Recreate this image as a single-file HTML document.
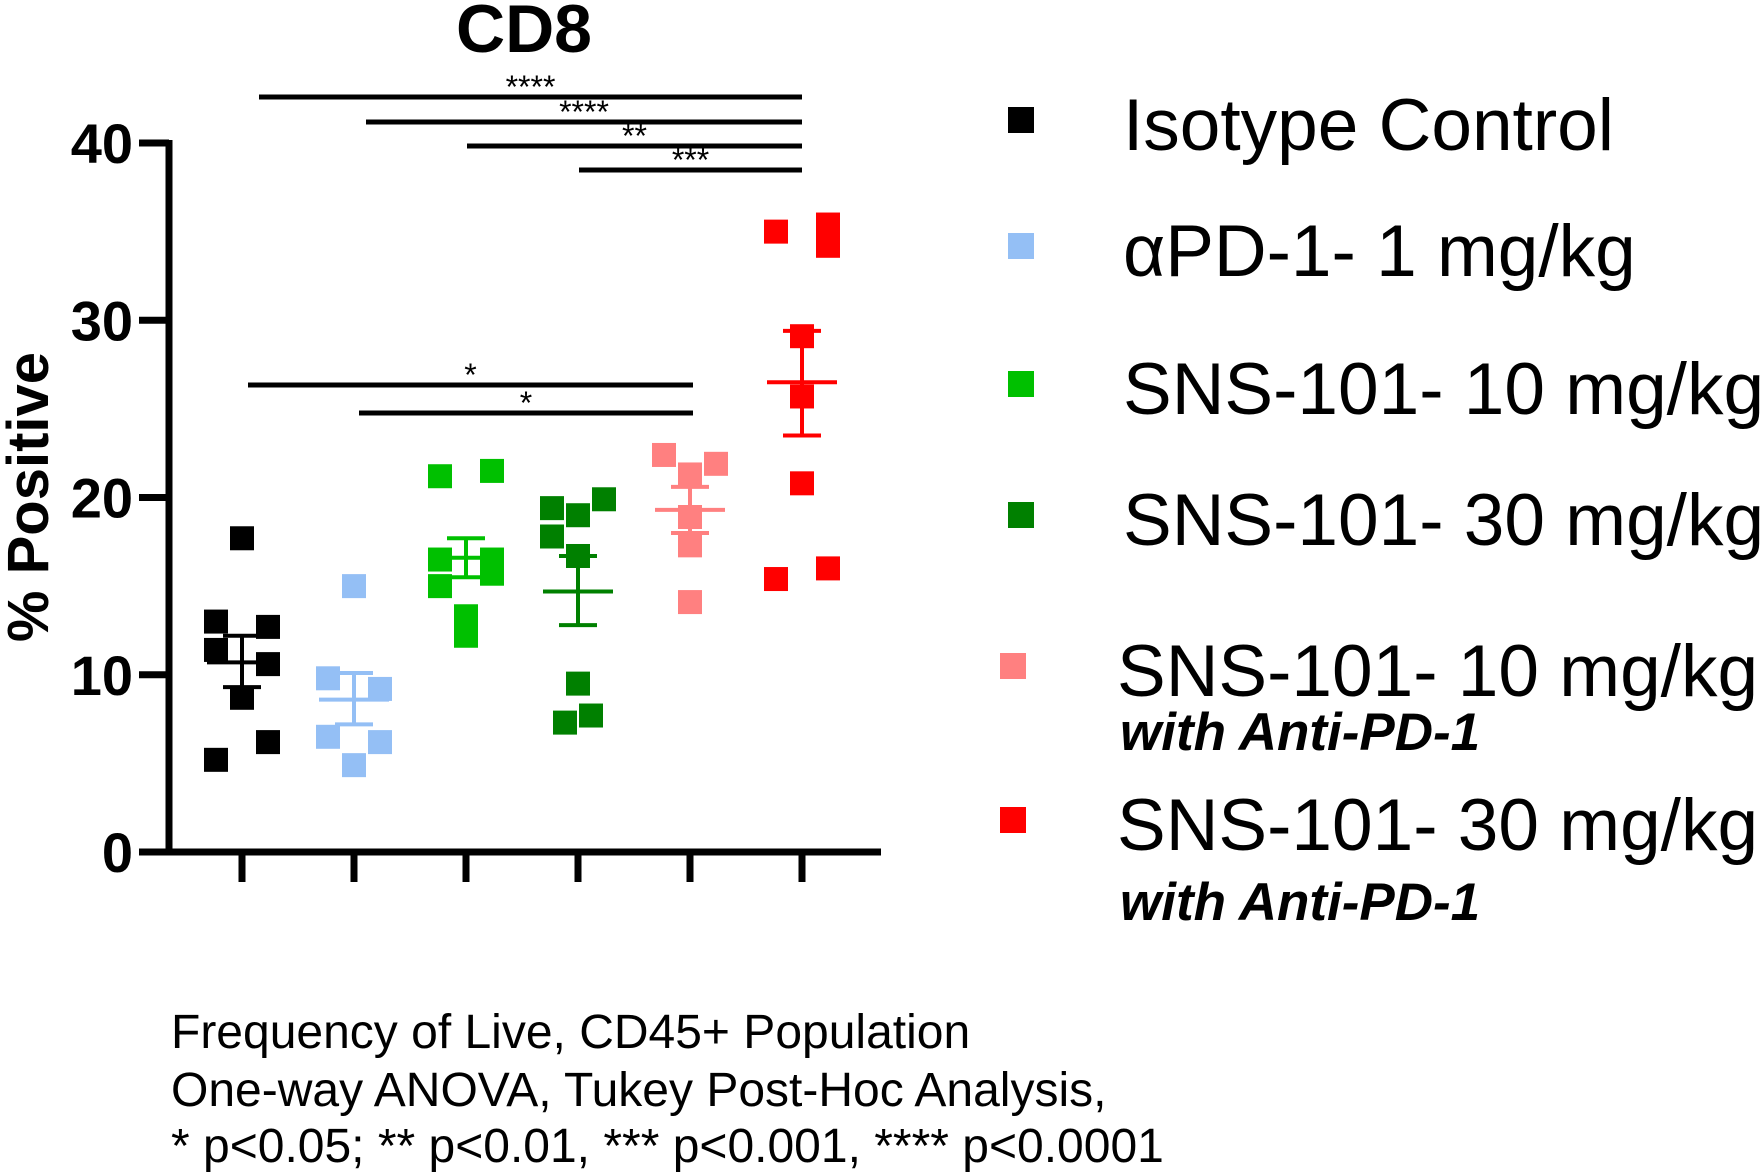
<!DOCTYPE html>
<html><head><meta charset="utf-8"><style>
html,body{margin:0;padding:0;background:#fff;}
svg{display:block;font-family:"Liberation Sans",Arial,sans-serif;}
</style></head><body>
<svg id="chart" width="1764" height="1174" viewBox="0 0 1764 1174"></svg>
<script>
const categories=["Isotype Control","aPD-1 1 mg/kg","SNS-101 10 mg/kg","SNS-101 30 mg/kg","SNS-101 10 mg/kg + aPD-1","SNS-101 30 mg/kg + aPD-1"];
const colors=["#000000","#94bff5","#00c000","#008000","#ff8080","#ff0000"];
const isotypeVals=[17.7,13.0,12.7,11.4,10.6,8.7,6.2,5.2];
const isotypeJit=[0,-1,1,-1,1,0,1,-1];
const pd1Vals=[15.0,9.8,9.2,6.5,6.2,4.9];
const pd1Jit=[0,-1,1,-1,1,0];
const sns10Vals=[21.2,21.5,16.5,16.5,15.0,15.7,13.3,12.2];
const sns10Jit=[-1,1,-1,1,-1,1,0,0];
const sns30Vals=[19.4,19.0,19.9,17.8,16.7,9.5,7.3,7.7];
const sns30Jit=[-1,0,1,-1,0,0,-0.5,0.5];
const sns10pVals=[22.4,21.3,21.9,18.9,17.3,14.1];
const sns10pJit=[-1,0,1,0,0,0];
const sns30pVals=[35.0,35.4,34.2,29.1,25.7,20.8,15.4,16.0];
const sns30pJit=[-1,1,1,0,0,0,-1,1];
const means=[10.7,8.6,16.6,14.7,19.3,26.5];
const semHi=[12.2,10.1,17.7,16.7,20.6,29.4];
const semLo=[9.3,7.2,15.5,12.8,18.0,23.5];
const yTicks=[0,10,20,30,40];
const sigFrom=[0,1,2,3,0,1];
const sigTo=[5,5,5,5,4,4];
const sigLabels=["****","****","**","***","*","*"];
const groups=[isotypeVals,pd1Vals,sns10Vals,sns30Vals,sns10pVals,sns30pVals];
const jits=[isotypeJit,pd1Jit,sns10Jit,sns30Jit,sns10pJit,sns30pJit];

const NS="http://www.w3.org/2000/svg";
const svg=document.getElementById('chart');
function mk(t,a,txt){const e=document.createElementNS(NS,t);for(const k in a)e.setAttribute(k,a[k]);if(txt!==undefined)e.textContent=txt;svg.appendChild(e);return e;}
const y0=852,y40=143;
const yS=v=>y0-(y0-y40)*v/40;
const xS=i=>242+i*112;

let e;
e=mk('text',{x:524,y:52,'text-anchor':'middle','font-size':68,'font-weight':'bold'},'CD8');

e=mk('text',{x:0,y:0,transform:'translate(48,497) rotate(-90)','text-anchor':'middle','font-size':58,'font-weight':'bold'},'% Positive');

e=mk('line',{x1:169,y1:yS(40)-3,x2:169,y2:y0+3,stroke:'#000','stroke-width':7});

e=mk('line',{x1:139,y1:y0,x2:881,y2:y0,stroke:'#000','stroke-width':7});

yTicks.forEach(t=>{
  e=mk('line',{x1:139,y1:yS(t),x2:169,y2:yS(t),stroke:'#000','stroke-width':7});
  
  e=mk('text',{x:133,y:yS(t)+20,'text-anchor':'end','font-size':56,'font-weight':'bold'},String(t));
  
});
categories.forEach((c,i)=>{
  e=mk('line',{x1:xS(i),y1:y0,x2:xS(i),y2:882,stroke:'#000','stroke-width':7});
  
});
groups.forEach((g,i)=>{
  g.forEach((v,j)=>{
    const cx=xS(i)+jits[i][j]*26;
    e=mk('rect',{x:cx-12,y:yS(v)-12,width:24,height:24,fill:colors[i]});
    
  });
  const c=colors[i],x=xS(i);
  e=mk('line',{x1:x-35,y1:yS(means[i]),x2:x+35,y2:yS(means[i]),stroke:c,'stroke-width':4});
  
  e=mk('line',{x1:x,y1:yS(semHi[i]),x2:x,y2:yS(semLo[i]),stroke:c,'stroke-width':4});
  
  e=mk('line',{x1:x-19,y1:yS(semHi[i]),x2:x+19,y2:yS(semHi[i]),stroke:c,'stroke-width':4});
  
  e=mk('line',{x1:x-19,y1:yS(semLo[i]),x2:x+19,y2:yS(semLo[i]),stroke:c,'stroke-width':4});
  
});
const sigY=[97,122,146,170,385,413];
const sigOff=[17,12,1,1,6,5];
sigLabels.forEach((l,k)=>{
  const x1=xS(sigFrom[k])+sigOff[k], x2=xS(sigTo[k])+(k<4?0:3);
  e=mk('line',{x1:x1,y1:sigY[k],x2:x2,y2:sigY[k],stroke:'#000','stroke-width':5});
  
  e=mk('text',{x:(x1+x2)/2,y:sigY[k]+1,'text-anchor':'middle','font-size':32},l);
  
});
const legY=[120,246,384,515,666,820];
const legText=["Isotype Control","\u03b1PD-1- 1 mg/kg","SNS-101- 10 mg/kg","SNS-101- 30 mg/kg","SNS-101- 10 mg/kg","SNS-101- 30 mg/kg"];
legText.forEach((t,i)=>{
  const ox=i<4?0:-8;
  e=mk('rect',{x:1008+ox,y:legY[i]-13,width:26,height:26,fill:colors[i]});
  
  e=mk('text',{x:1123+(i<4?0:-6),y:legY[i]+30,'font-size':73},t);
  
});
[750,920].forEach(b=>{
  e=mk('text',{x:1120,y:b,'font-size':53,'font-weight':'bold','font-style':'italic'},'with Anti-PD-1');
  
});
const foot=["Frequency of Live, CD45+ Population","One-way ANOVA, Tukey Post-Hoc Analysis,","* p<0.05; ** p<0.01, *** p<0.001, **** p<0.0001"];
[1048,1106,1162].forEach((b,i)=>{
  e=mk('text',{x:171,y:b,'font-size':48},foot[i]);
  
});
</script>
</body></html>
